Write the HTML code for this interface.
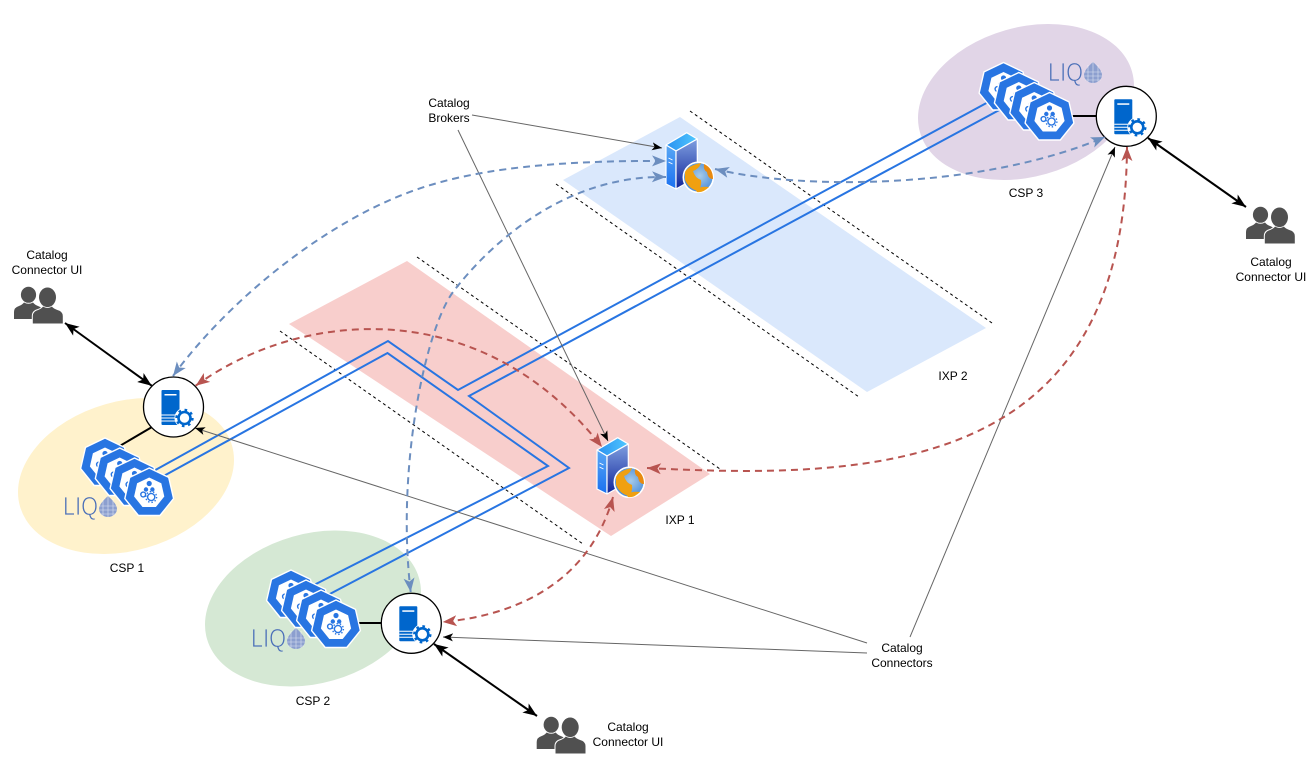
<!DOCTYPE html>
<html><head><meta charset="utf-8"><style>
html,body{margin:0;padding:0;background:#fff;width:1310px;height:757px;overflow:hidden}
svg{display:block}
text{font-family:"Liberation Sans",sans-serif;font-size:12px;fill:#000;text-anchor:middle}
</style></head><body>
<svg width="1310" height="757" viewBox="0 0 1310 757" xmlns="http://www.w3.org/2000/svg">
<defs>
<marker id="mk" markerUnits="userSpaceOnUse" markerWidth="15" markerHeight="13" refX="14" refY="6" orient="auto-start-reverse"><path d="M0,0.5 L14,6 L0,11.5 L3.5,6z" fill="#000"/></marker>
<marker id="mb" markerUnits="userSpaceOnUse" markerWidth="15" markerHeight="13" refX="14" refY="6" orient="auto-start-reverse"><path d="M0,0.5 L14,6 L0,11.5 L3.5,6z" fill="#6c8ebf"/></marker>
<marker id="mr" markerUnits="userSpaceOnUse" markerWidth="15" markerHeight="13" refX="14" refY="6" orient="auto-start-reverse"><path d="M0,0.5 L14,6 L0,11.5 L3.5,6z" fill="#b85450"/></marker>
<marker id="mg" markerUnits="userSpaceOnUse" markerWidth="11" markerHeight="9" refX="10" refY="4" orient="auto"><path d="M0,0 L10,4 L0,8 L2.5,4z" fill="#000"/></marker>
<linearGradient id="cf" x1="0" y1="0" x2="0" y2="1"><stop offset="0" stop-color="#5aa8f5"/><stop offset="1" stop-color="#1a70f0"/></linearGradient>
<linearGradient id="cr" x1="0" y1="0" x2="0" y2="1"><stop offset="0" stop-color="#7f9fe0"/><stop offset="1" stop-color="#10259a"/></linearGradient>
<linearGradient id="ct" x1="0" y1="0" x2="1" y2="0"><stop offset="0" stop-color="#2a90f0"/><stop offset="1" stop-color="#50c8ff"/></linearGradient>
<radialGradient id="gl" cx="0.55" cy="0.45" r="0.6"><stop offset="0" stop-color="#a8cbe8"/><stop offset="1" stop-color="#3f86d8"/></radialGradient>
<g id="k8s">
<path d="M0,-25 L19.500,-15.600 L24.400,5.600 L10.800,22.500 L-10.800,22.500 L-24.400,5.600 L-19.500,-15.600z" fill="#2875e2" stroke="#fff" stroke-width="1.4" stroke-linejoin="round"/>
<path d="M0,-15.500 L12.100,-9.700 L15.100,3.500 L6.700,14 L-6.700,14 L-15.100,3.500 L-12.100,-9.700z" fill="#fff"/>
<circle cx="0" cy="-9.500" r="2.600" fill="#2875e2"/><circle cx="-3.200" cy="-3.500" r="2.200" fill="#2875e2"/><circle cx="3.200" cy="-3.500" r="2.200" fill="#2875e2"/>
<circle cx="-6" cy="1.500" r="2.400" fill="none" stroke="#2875e2" stroke-width="1.4"/>
<circle cx="2" cy="4" r="3.600" fill="none" stroke="#2875e2" stroke-width="1.4"/>
<circle cx="2" cy="4" r="5.400" fill="none" stroke="#2875e2" stroke-width="1.4" stroke-dasharray="1.4 2"/>
</g>
<g id="node">
<circle r="30" fill="#fff" stroke="#000" stroke-width="1.3"/>
<rect x="-12" y="-17" width="18" height="35" rx="1" fill="#0066cc"/>
<rect x="-9" y="-13" width="12" height="1.500" fill="#fff"/>
<path d="M-12,8 H4 M-12,11 H4 M-12,14 H4" stroke="#fff" stroke-width="1"/>
<circle cx="11" cy="11" r="10" fill="#fff"/>
<circle cx="11" cy="11" r="6" fill="#fff" stroke="#0066cc" stroke-width="2.600"/>
<circle cx="11" cy="11" r="8" fill="none" stroke="#0066cc" stroke-width="2.400" stroke-dasharray="2.600 3.650"/>
</g>
<g id="srv">
<path d="M666,145 L686.700,132.700 L697.300,139 L676,151z" fill="url(#ct)" stroke="#fff" stroke-width="1.2" stroke-linejoin="round"/>
<path d="M666,145 L676,151 L676,189 L666,184z" fill="url(#cf)" stroke="#fff" stroke-width="1.2" stroke-linejoin="round"/>
<path d="M676,151 L697.300,139 L697.300,177 L676,189z" fill="url(#cr)" stroke="#fff" stroke-width="1.2" stroke-linejoin="round"/>
<path d="M668.500,158 L672.500,160 M668.500,162 L672.500,164" stroke="#fff" stroke-width="0.9"/>
<circle cx="698.300" cy="177.300" r="15" fill="url(#gl)" stroke="#fff" stroke-width="1.600"/>
<path d="M685,172 Q689,165 701,163 Q699,169 693,171 Q695,178 701,180 Q702,186 698,191 Q689,189 685,180z" fill="#f0a010"/>
<path d="M704,164 Q713,168 713,179 Q708,179 707,172 Q703,170 704,164z" fill="#e88a10"/>
<path d="M695,189 Q702,186 709,187 Q703,193 697,192z" fill="#f0a010"/>
</g>
<g id="ppl" fill="#505050">
<ellipse cx="14.500" cy="7.800" rx="7.600" ry="8"/>
<path d="M0,32 V25 Q0,20.500 5,19 Q8,18 10,15.500 Q14.500,18 19,15.500 Q21,18 24,19 Q29,20.500 29,25 V32z"/>
<path d="M18.300,37 V29 Q18.300,24 24,22.500 Q27,21.500 29,19 Q33.500,22 38,19 Q40,21.500 43.500,22.500 Q49.300,24 49.300,29 V37z" stroke="#fff" stroke-width="1"/>
<ellipse cx="33.500" cy="10.300" rx="8.500" ry="9.800"/>
</g>
<g id="liqo">
<text x="17.500" y="19" textLength="35" lengthAdjust="spacingAndGlyphs" stroke-width="0.8" style="font-size:26px;fill:#4a6fb8">LIQ</text>
<path d="M45,0 Q54,8 54,13 A9,8 0 0 1 36,13 Q36,8 45,0z" fill="#8c9fcf" stroke="none"/>
<path d="M36,10 H54 M36,14 H54 M37,18 H53 M40,3 V20 M45,0 V21 M50,3 V20" stroke="#fff" stroke-width="0.6" opacity=".7"/>
</g>
</defs>

<ellipse cx="126" cy="476" rx="110.300" ry="74.700" fill="#fff2cc" transform="rotate(-16 126 476)"/>
<ellipse cx="313" cy="608.500" rx="110.300" ry="74.700" fill="#d5e8d4" transform="rotate(-16 313 608.500)"/>
<ellipse cx="1026" cy="102" rx="110.300" ry="74.700" fill="#e1d5e7" transform="rotate(-16 1026 102)"/>

<polygon points="407,261 710,474 611,536 289,324" fill="#f8cecc"/>
<polygon points="680,117 986,328 867,392 563,180" fill="#dae8fc"/>

<g stroke="#000" stroke-width="1" stroke-dasharray="3 3" fill="none">
<path d="M417,257 L720,469"/><path d="M280,331 L583,544"/>
<path d="M690,111 L992,323"/><path d="M556,184 L859,397"/>
</g>

<g stroke="#2875e2" stroke-width="2" fill="none" stroke-linejoin="miter">
<path d="M150,473 L388,341 L458,390 L992,100"/>
<path d="M160,478 L387.500,353 L548,466 L312,586"/>
<path d="M326,596 L569,468 L469,396 L1003,108"/>
</g>

<g stroke="#666" stroke-width="1" fill="none">
<path d="M472,115 L662,148" marker-end="url(#mg)"/>
<path d="M458,130 L608,441" marker-end="url(#mg)"/>
<path d="M867,643 L195,428" marker-end="url(#mg)"/>
<path d="M867,653 L443,637" marker-end="url(#mg)"/>
<path d="M910,637 L1115,147" marker-end="url(#mg)"/>
</g>

<g stroke="#000" stroke-width="2" fill="none">
<path d="M152,427 L118,447"/><path d="M1072,116 L1096,116"/><path d="M359,623 L381,623"/>
<path d="M65,323 L151.700,385.700" marker-start="url(#mk)" marker-end="url(#mk)"/>
<path d="M1148,138 L1246,207" marker-start="url(#mk)" marker-end="url(#mk)"/>
<path d="M434,644 L537,716" marker-start="url(#mk)" marker-end="url(#mk)"/>
</g>

<use href="#k8s" x="105" y="463"/><use href="#k8s" x="119.700" y="473"/><use href="#k8s" x="134.500" y="483"/><use href="#k8s" x="149.200" y="493"/>
<use href="#k8s" x="291" y="595"/><use href="#k8s" x="306" y="605"/><use href="#k8s" x="321" y="615"/><use href="#k8s" x="336" y="625"/>
<use href="#k8s" x="1003.500" y="87.500"/><use href="#k8s" x="1018.800" y="97.500"/><use href="#k8s" x="1034.200" y="107.500"/><use href="#k8s" x="1049.500" y="117.500"/>

<use href="#node" x="173.500" y="407"/>
<use href="#node" x="411.300" y="623.300"/>
<use href="#node" x="1126.300" y="116.300"/>

<use href="#srv"/>
<use href="#srv" x="-69" y="305"/>

<g stroke-width="2" fill="none" stroke-dasharray="7 5">
<path stroke="#6c8ebf" d="M173,376 C225,305 310,235 390,200 C440,178 510,160 666,161" marker-start="url(#mb)" marker-end="url(#mb)"/>
<path stroke="#6c8ebf" d="M410.700,592 C396,470 425,330 453,292 C485,250 560,175 666,177" marker-start="url(#mb)" marker-end="url(#mb)"/>
<path stroke="#6c8ebf" d="M715,169 C800,190 980,190 1105,137" marker-start="url(#mb)" marker-end="url(#mb)"/>
<path stroke="#b85450" d="M195.700,385.700 C300,310 480,292 602,447" marker-start="url(#mr)" marker-end="url(#mr)"/>
<path stroke="#b85450" d="M647,468 C880,480 1125,470 1127,147" marker-start="url(#mr)" marker-end="url(#mr)"/>
<path stroke="#b85450" d="M613,497 C590,580 520,615 442.700,622" marker-start="url(#mr)" marker-end="url(#mr)"/>
</g>

<use href="#ppl" x="14" y="287"/>
<use href="#ppl" x="1246" y="207"/>
<use href="#ppl" x="536.700" y="717"/>

<use href="#liqo" x="63" y="496" stroke="#fff2cc"/>
<use href="#liqo" x="251" y="628" stroke="#d5e8d4"/>
<use href="#liqo" x="1048" y="62" stroke="#e1d5e7"/>

<text x="449" y="107">Catalog</text><text x="449" y="122">Brokers</text>
<text x="47" y="259">Catalog</text><text x="47" y="274">Connector UI</text>
<text x="1271" y="266">Catalog</text><text x="1271" y="281">Connector UI</text>
<text x="628" y="731">Catalog</text><text x="628" y="746">Connector UI</text>
<text x="902" y="652">Catalog</text><text x="902" y="667">Connectors</text>
<text x="127" y="572">CSP 1</text>
<text x="313" y="705">CSP 2</text>
<text x="1026" y="197">CSP 3</text>
<text x="953" y="380">IXP 2</text>
<text x="680" y="524">IXP 1</text>
</svg>
</body></html>
